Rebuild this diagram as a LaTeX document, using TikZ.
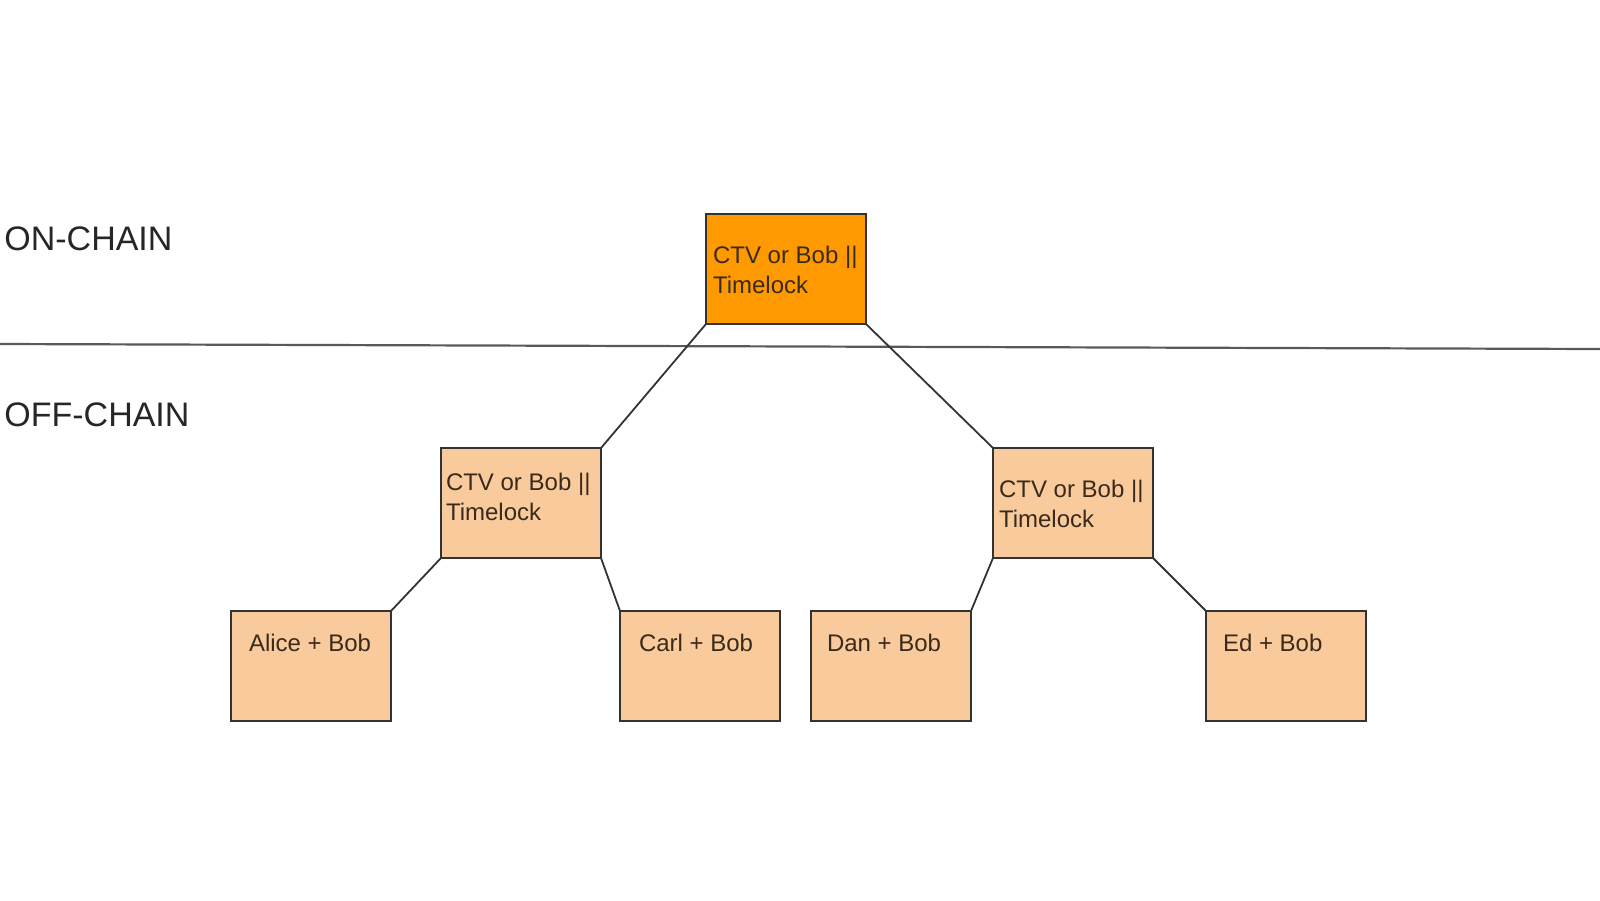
\documentclass[tikz,border=0pt]{standalone}
\usepackage{fontspec}
\setmainfont{Liberation Sans}
\usetikzlibrary{calc}
\definecolor{darkor}{HTML}{FF9900}
\definecolor{lightor}{HTML}{F9CB9C}
\definecolor{edge}{HTML}{333333}
\definecolor{txt}{HTML}{3A2A1C}
\tikzset{
  box/.style={draw=edge, line width=1pt, minimum width=80pt, minimum height=55pt, inner sep=0pt, outer sep=0pt, anchor=north west},
  hot/.style={box, fill=darkor},
  cool/.style={box, fill=lightor},
  lbl/.style={inner sep=0pt, outer sep=0pt, anchor=base west, align=left, text=txt, font=\fontsize{12pt}{15pt}\selectfont},
  side/.style={inner sep=0pt, anchor=base west, text=black!85, font=\fontsize{17pt}{21pt}\selectfont},
  conn/.style={draw=edge, line width=0.9pt}
}
\begin{document}
\begin{tikzpicture}[x=0.5pt,y=-0.5pt]
\useasboundingbox (0,0) rectangle (1600,900);
\coordinate (ls) at (0,344);
\coordinate (le) at (1600,349);
\draw[draw=black!65, line width=1.1pt] (ls) -- (le);
\node[side] (on) at (4,250) {ON-CHAIN};
\node[side] (off) at (4,426) {OFF-CHAIN};

\node[hot]  (top) at (706,214) {};
\node[cool] (lm)  at (441,448) {};
\node[cool] (rm)  at (993,448) {};
\node[cool] (al)  at (231,611) {};
\node[cool] (ca)  at (620,611) {};
\node[cool] (da)  at (811,611) {};
\node[cool] (ed)  at (1206,611) {};

\node[lbl] (ttop) at ($(top.north west)+(7,79)$) {CTV or Bob ||\\Timelock};
\node[lbl] (tlm)  at ($(lm.north west)+(5,72)$) {CTV or Bob ||\\Timelock};
\node[lbl] (trm)  at ($(rm.north west)+(6,79)$) {CTV or Bob ||\\Timelock};
\node[lbl] (tal)  at ($(al.north west)+(18,40)$) {Alice + Bob};
\node[lbl] (tca)  at ($(ca.north west)+(19,40)$) {Carl + Bob};
\node[lbl] (tda)  at ($(da.north west)+(16,40)$) {Dan + Bob};
\node[lbl] (ted)  at ($(ed.north west)+(17,40)$) {Ed + Bob};

\draw[conn] (top.south west) -- (lm.north east);
\draw[conn] (top.south east) -- (rm.north west);
\draw[conn] (lm.south west) -- (al.north east);
\draw[conn] (lm.south east) -- (ca.north west);
\draw[conn] (rm.south west) -- (da.north east);
\draw[conn] (rm.south east) -- (ed.north west);
\end{tikzpicture}
\end{document}
